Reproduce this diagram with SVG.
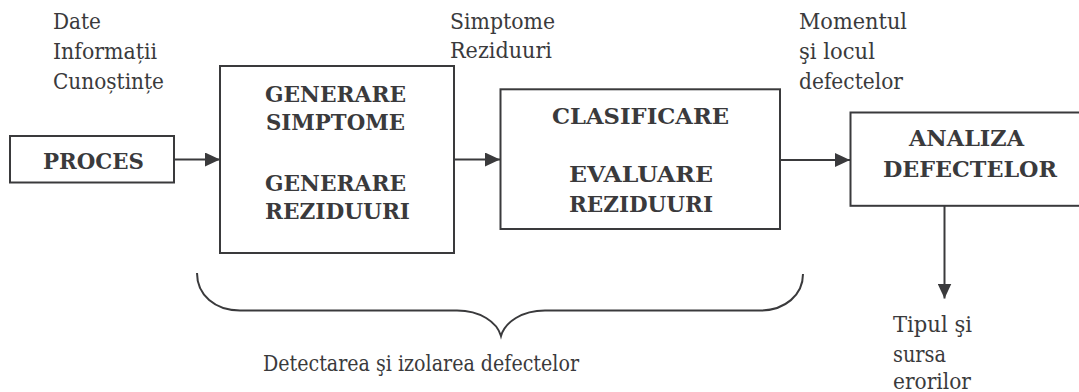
<svg xmlns="http://www.w3.org/2000/svg" width="1079" height="392" viewBox="0 0 1079 392">
<style>
.box{fill:#fff;stroke:#3a3a3c;stroke-width:2}
.t{font-family:'DejaVu Serif','Liberation Serif',serif;font-size:22px;fill:#3a3a3c}
.b{font-family:'DejaVu Serif','Liberation Serif',serif;font-size:22.5px;font-weight:bold;fill:#3a3a3c;text-anchor:middle}
.c{stroke:#3a3a3c;stroke-width:2;fill:none}
</style>
<defs>
<marker id="ah" markerUnits="userSpaceOnUse" markerWidth="16" markerHeight="14" refX="15" refY="7" orient="auto">
<path d="M0,0 L15,7 L0,14 Z" fill="#3a3a3c"/>
</marker>
</defs>
<g id="labels">
<text class="t" x="53" y="29" textLength="48" lengthAdjust="spacingAndGlyphs">Date</text>
<text class="t" x="53" y="59" textLength="104" lengthAdjust="spacingAndGlyphs">Informații</text>
<text class="t" x="53" y="89" textLength="111" lengthAdjust="spacingAndGlyphs">Cunoștințe</text>
<text class="t" x="450" y="28.5" textLength="105" lengthAdjust="spacingAndGlyphs">Simptome</text>
<text class="t" x="450" y="58" textLength="102" lengthAdjust="spacingAndGlyphs">Reziduuri</text>
<text class="t" x="799" y="29" textLength="108" lengthAdjust="spacingAndGlyphs">Momentul</text>
<text class="t" x="799" y="59" textLength="76" lengthAdjust="spacingAndGlyphs">şi locul</text>
<text class="t" x="799" y="89" textLength="104" lengthAdjust="spacingAndGlyphs">defectelor</text>
<text class="t" x="893" y="331.5" textLength="79" lengthAdjust="spacingAndGlyphs">Tipul şi</text>
<text class="t" x="893" y="361.5" textLength="53" lengthAdjust="spacingAndGlyphs">sursa</text>
<text class="t" x="893" y="389" textLength="78" lengthAdjust="spacingAndGlyphs">erorilor</text>
<text class="t" x="263" y="371" textLength="316" lengthAdjust="spacingAndGlyphs">Detectarea şi izolarea defectelor</text>
</g>
<g id="proces">
<rect class="box" x="10" y="136" width="164" height="46.5"/>
<text class="b" x="93.5" y="169.3" textLength="101" lengthAdjust="spacingAndGlyphs">PROCES</text>
</g>
<g id="generare">
<rect class="box" x="220" y="66" width="234" height="187"/>
<text class="b" x="335.5" y="101.7" textLength="141" lengthAdjust="spacingAndGlyphs">GENERARE</text>
<text class="b" x="335.5" y="130" textLength="139" lengthAdjust="spacingAndGlyphs">SIMPTOME</text>
<text class="b" x="335.5" y="190.7" textLength="141" lengthAdjust="spacingAndGlyphs">GENERARE</text>
<text class="b" x="337.5" y="219" textLength="145" lengthAdjust="spacingAndGlyphs">REZIDUURI</text>
</g>
<g id="clasificare">
<rect class="box" x="500.5" y="89.3" width="279.5" height="139.7"/>
<text class="b" x="640.5" y="124" textLength="177" lengthAdjust="spacingAndGlyphs">CLASIFICARE</text>
<text class="b" x="641" y="181.7" textLength="144" lengthAdjust="spacingAndGlyphs">EVALUARE</text>
<text class="b" x="641" y="211.7" textLength="144" lengthAdjust="spacingAndGlyphs">REZIDUURI</text>
</g>
<g id="analiza">
<rect class="box" x="850.5" y="112.5" width="240" height="93.3"/>
<text class="b" x="966.5" y="146" textLength="115" lengthAdjust="spacingAndGlyphs">ANALIZA</text>
<text class="b" x="970" y="176.7" textLength="174" lengthAdjust="spacingAndGlyphs">DEFECTELOR</text>
</g>
<g id="connectors">
<line class="c" x1="174" y1="159.5" x2="220" y2="159.5" marker-end="url(#ah)"/>
<line class="c" x1="454" y1="159.5" x2="500" y2="159.5" marker-end="url(#ah)"/>
<line class="c" x1="780" y1="160" x2="850" y2="160" marker-end="url(#ah)"/>
<line class="c" x1="944.5" y1="206" x2="944.5" y2="298.5" marker-end="url(#ah)"/>
</g>
<g id="brace">
<path class="c" stroke-width="1.6" d="M197,273 C197,295 215,310.5 240,310.5 L457,310.5 C480,310.5 497,322 501,336 C505,322 522,310.5 545,310.5 L760,310.5 C785,310.5 803,295 803,274"/>
</g>
</svg>
